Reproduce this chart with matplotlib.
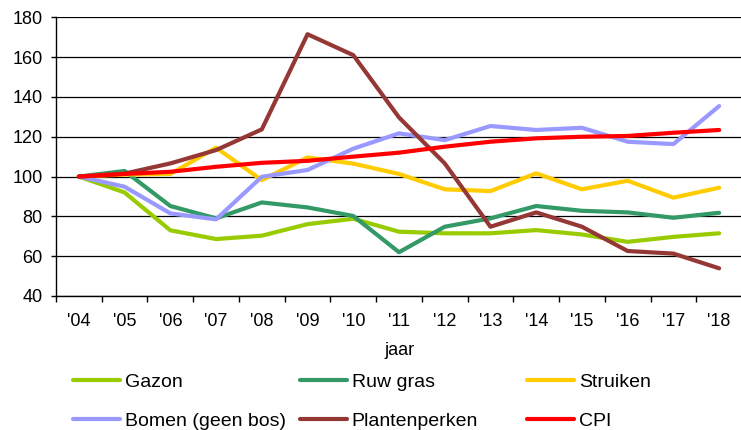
import numpy as np
import matplotlib
matplotlib.use("Agg")
import matplotlib.pyplot as plt

plt.rcParams['font.family'] = ['Liberation Sans', 'DejaVu Sans']

years = ["'04", "'05", "'06", "'07", "'08", "'09", "'10", "'11", "'12", "'13",
         "'14", "'15", "'16", "'17", "'18"]

gazon = [100, 92, 73, 68.6, 70.3, 76.1, 78.8, 72.3, 71.5, 71.5, 73.1, 70.9, 67.2, 69.7, 71.5]
ruw_gras = [100, 102.8, 85.2, 79, 87, 84.5, 80.2, 62, 74.8, 79, 85.2, 82.8, 82, 79.3, 81.8]
struiken = [100, 101, 101.3, 114.5, 98.2, 109.6, 106.5, 101.3, 93.6, 92.7, 101.6, 93.6, 97.9, 89.4, 94.4]
bomen = [100, 94.9, 81.5, 78.5, 99.9, 103.3, 114, 121.7, 118.3, 125.4, 123.4, 124.5, 117.5, 116.3, 135.4]
plantenperken = [100, 101.5, 106.6, 113.3, 123.7, 171.5, 161, 129.7, 106.6, 74.8, 82, 74.8, 62.6, 61.3, 53.9]
cpi = [100, 101.3, 102.4, 104.9, 106.9, 107.9, 110, 112, 115, 117.5, 119.2, 120, 120.4, 122, 123.4]

series = [
    ("Gazon", gazon, "#99CC00"),
    ("Ruw gras", ruw_gras, "#339966"),
    ("Struiken", struiken, "#FFCC00"),
    ("Bomen (geen bos)", bomen, "#9999FF"),
    ("Plantenperken", plantenperken, "#953735"),
    ("CPI", cpi, "#FF0000"),
]

fig = plt.figure(figsize=(7.41, 4.30), dpi=100)
ax = fig.add_axes([56/741, 1 - 296/430, (742 - 56)/741, (296 - 17.3)/430])

x = np.arange(len(years))
handles = {}
for name, vals, col in series:
    h, = ax.plot(x, vals, color=col, lw=3, solid_capstyle='round', label=name)
    handles[name] = h

ax.set_xlim(-0.5, len(years) - 0.5)
ax.set_ylim(40, 180)
ax.set_yticks(np.arange(40, 181, 20))
ax.yaxis.grid(True, color='black', lw=0.9)
ax.set_axisbelow(True)

# ticks between categories, labels at the centres
ax.set_xticks(np.arange(-0.5, len(years), 1))
ax.set_xticklabels([])
ax.set_xticks(x, minor=True)
ax.set_xticklabels(years, minor=True)
ax.tick_params(axis='x', which='major', direction='out', length=4.3, width=1, color='black')
ax.tick_params(axis='x', which='minor', length=0, pad=12.5, labelsize=13)
ax.tick_params(axis='y', direction='out', length=3.6, width=1, labelsize=13, pad=6)

for s in ['top', 'right']:
    ax.spines[s].set_visible(False)
for s in ['left', 'bottom']:
    ax.spines[s].set_color('black')
    ax.spines[s].set_linewidth(1)

ax.set_xlabel("jaar", fontsize=13)
ax.xaxis.set_label_coords(0.5, -0.165)

cols = [["Gazon", "Bomen (geen bos)"], ["Ruw gras", "Plantenperken"], ["Struiken", "CPI"]]
xs = [73, 300, 527]
for names, xp in zip(cols, xs):
    fig.legend([handles[n] for n in names], names, loc='upper left',
               bbox_to_anchor=(xp/741, 1 - 373/430), frameon=False,
               fontsize=14, handlelength=2.4, handletextpad=0.26,
               labelspacing=1.1, borderaxespad=0, borderpad=0)

fig.savefig("out.png", dpi=100)
